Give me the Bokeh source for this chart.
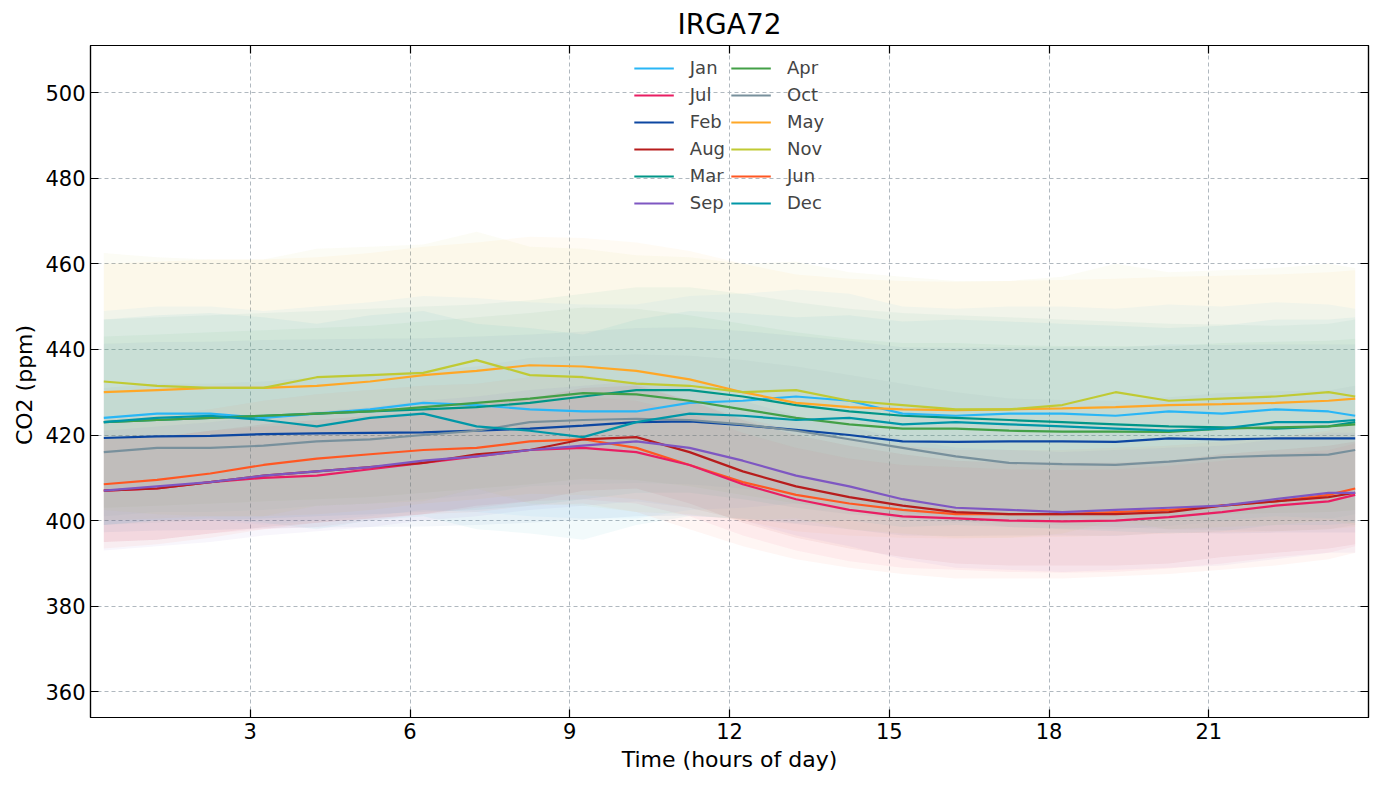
from bokeh.plotting import figure
from bokeh.models import LinearAxis, Legend, LegendItem, FixedTicker, Range1d
from bokeh.embed import file_html
from bokeh.resources import INLINE

hours = [0.25 + i for i in range(24)] + [23.75]
months = ["Jan","Feb","Mar","Apr","May","Jun","Jul","Aug","Sep","Oct","Nov","Dec"]
colors = ["#29b6f6","#0d47a1","#009688","#43a047","#ffa726","#ff5722",
          "#e91e63","#b71c1c","#7e57c2","#78909c","#c0ca33","#0097a7"]
jan = [424,425,425,424,425,426,427.5,427,426,425.5,425.5,427.5,428,429,428,425,424.5,425,425,424.5,425.5,425,426,425.5,424.5]
feb = [419.3,419.7,419.8,420.2,420.4,420.5,420.6,421,421.5,422.2,423,423.2,422.3,421.2,420,418.5,418.4,418.5,418.5,418.4,419.2,419,419.2,419.2,419.2]
mar = [423,423.5,424,424.5,425,425.5,426,426.5,427.5,429,430.5,430.5,429,427,425.5,424.5,424,423.5,423,422.5,422,421.8,421.5,422,423]
apr = [423,423.5,424,424.5,425,425.5,426.5,427.5,428.5,429.8,429.5,428,426,424,422.5,421.5,421.5,421,420.8,420.8,420.7,421.5,421.8,422,422.5]
may = [430,430.5,431,431,431.5,432.5,434,435,436.3,436,435,433,430,427.5,426.5,426,425.8,426,426.2,426.5,427,427.2,427.5,428,428.5]
jun = [408.5,409.5,411,413,414.5,415.5,416.5,417,418.5,419,417,413,409,406,404,402.5,401.5,401.5,401.5,402,402.5,403.5,404.5,406,407.5]
jul = [407,407.5,409,410,410.5,412,413.5,415,416.5,417,416,413,408.5,405,402.5,401,400.5,400,399.8,400,400.8,402,403.5,404.5,406]
aug = [407,407.5,409,410.5,411.5,412.5,413.5,415.5,416.5,419,419.5,416,411.5,408,405.5,403.5,402,401.5,401.5,401.5,402,403.5,404.5,405.5,406.5]
sep = [407,408,409,410.5,411.5,412.5,414,415,416.5,417.5,418.5,417,414,410.5,408,405,403,402.5,402,402.5,403,403.5,405,406.5,406.5]
octo = [416,417,417,417.5,418.5,419,420,421,423,423.5,423.8,423.5,422.5,421,419,417,415,413.5,413.2,413,413.8,414.8,415.2,415.4,416.5]
nov = [432.5,431.5,431,431,433.5,434,434.5,437.5,434,433.5,432,431.5,430,430.5,428,427,426,426,427,430,428,428.5,429,430,429]
dec = [423,424,424.5,423.5,422,424,425,422,421,419.5,423,425,424.5,423.5,424,422.5,423,422.5,422,421.5,421,421.5,423,423,423.5]
series = [jan,feb,mar,apr,may,jun,jul,aug,sep,octo,nov,dec]
spread = [50,44,48,40,60,30,24,24,28,30,60,48]

p = figure(width=1373, height=774, output_backend="svg", toolbar_location=None,
           title="IRGA72", x_range=Range1d(0, 24), y_range=Range1d(354, 511),
           min_border_left=90)
p.title.align = "center"
p.title.text_font = "DejaVu Sans"
p.title.text_font_size = "28px"
p.title.text_font_style = "normal"
p.title.text_color = "black"

for s, sd, c in zip(series, spread, colors):
    p.varea(x=hours, y1=[v - sd / 2 for v in s], y2=[v + sd / 2 for v in s], fill_color=c, fill_alpha=0.05)
items = {}
for m, s, c in zip(months, series, colors):
    r = p.line(hours, s, line_color=c, line_width=2.2)
    items[m] = LegendItem(label=m, renderers=[r])
order = []
for a, b in zip(months[:6], months[6:]):
    order += [items[a], items[b]]

leg = Legend(items=order, ncols=2, location="top_center", border_line_color=None,
             background_fill_alpha=0, label_text_font="DejaVu Sans", label_text_font_size="18px",
             glyph_width=40, spacing=6, label_standoff=16, padding=8, margin=12)
p.add_layout(leg, "center")

xt = FixedTicker(ticks=[3,6,9,12,15,18,21])
yt = FixedTicker(ticks=[360,380,400,420,440,460,480,500])
p.xaxis.ticker = xt
p.yaxis.ticker = yt
p.xaxis.axis_label = "Time (hours of day)"
p.yaxis.axis_label = "CO2  (ppm)"
right = LinearAxis(ticker=yt, major_label_text_font_size="0px", major_label_standoff=0)
top = LinearAxis(ticker=xt, major_label_text_font_size="0px", major_label_standoff=0)
p.add_layout(right, "right")
p.add_layout(top, "above")
for ax in p.axis:
    ax.major_tick_in = 8
    ax.major_tick_out = 0
    ax.minor_tick_line_color = None
    ax.axis_line_width = 1.2
    ax.major_tick_line_width = 1.2
    ax.axis_label_text_font = "DejaVu Sans"
    ax.axis_label_text_font_size = "22px"
    ax.axis_label_text_font_style = "normal"
    ax.axis_label_text_color = "black"
    ax.major_label_text_font = "DejaVu Sans"
    ax.major_label_text_color = "black"
p.below[0].major_label_text_font_size = "21px"
p.left[0].major_label_text_font_size = "21px"
top.major_label_text_font_size = "0px"
right.major_label_text_font_size = "0px"
p.grid.grid_line_dash = "4 3"
p.grid.grid_line_color = "#b0b8bf"
p.outline_line_color = "black"
p.outline_line_width = 1.2

open("out.html", "w").write(file_html(p, INLINE))
